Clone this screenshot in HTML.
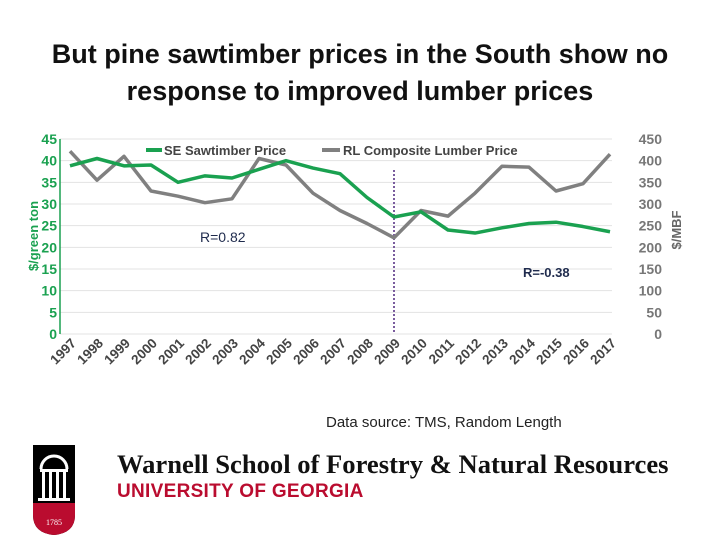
<!DOCTYPE html>
<html><head><meta charset="utf-8"><style>
body{margin:0;width:720px;height:540px;background:#fff;overflow:hidden;font-family:"Liberation Sans",sans-serif;position:relative}
#title{position:absolute;top:36px;left:0;width:720px;text-align:center;font-weight:bold;font-size:27px;line-height:37px;color:#111}
</style></head><body>
<div id="title">But pine sawtimber prices in the South show no<br>response to improved lumber prices</div>
<svg id="chart" width="720" height="540" style="position:absolute;left:0;top:0" xmlns="http://www.w3.org/2000/svg"></svg>
<div style="position:absolute;left:326px;top:414px;font-size:15px;color:#222;white-space:nowrap">Data source: TMS, Random Length</div>
<div style="position:absolute;left:33px;top:445px;width:42px;height:90px">
<svg width="50" height="90" viewBox="0 0 50 90">
<path d="M0 0H42V70Q42 88 21 90Q0 88 0 70Z" fill="#000"/>
<path d="M0 58H42V70Q42 88 21 90Q0 88 0 70Z" fill="#ba0c2f"/>
<path d="M8 24A13 13 0 0 1 34 24" stroke="#fff" stroke-width="3" fill="none"/>
<rect x="7" y="24" width="28" height="3" fill="#fff"/>
<rect x="9" y="27" width="3" height="26" fill="#fff"/><rect x="16" y="27" width="3" height="26" fill="#fff"/><rect x="23" y="27" width="3" height="26" fill="#fff"/><rect x="30" y="27" width="3" height="26" fill="#fff"/>
<rect x="5" y="53" width="32" height="3" fill="#fff"/>
<text x="21" y="80" font-size="8" fill="#fff" text-anchor="middle" font-family="Liberation Serif,serif">1785</text>
</svg></div>
<div style="position:absolute;left:117px;top:449px;font-family:'Liberation Serif',serif;font-weight:bold;font-size:26.6px;color:#111;white-space:nowrap">Warnell School of Forestry &amp; Natural Resources</div>
<div style="position:absolute;left:117px;top:481px;font-family:'Liberation Sans',sans-serif;font-weight:bold;font-size:19px;color:#ba0c2f;letter-spacing:0.3px;white-space:nowrap">UNIVERSITY OF GEORGIA</div>
<script>
const years=["1997","1998","1999","2000","2001","2002","2003","2004","2005","2006","2007","2008","2009","2010","2011","2012","2013","2014","2015","2016","2017"];
const seSaw=[38.8,40.5,38.8,39,35,36.5,36,38,40,38.3,37,31.5,27,28.2,24,23.3,24.5,25.5,25.8,24.8,23.6];
const rlLumber=[422,355,410,330,318,303,312,405,390,325,285,255,222,285,272,325,387,385,330,347,415];
const leftTicks=[0,5,10,15,20,25,30,35,40,45];
const rightTicks=[0,50,100,150,200,250,300,350,400,450];
const svg=document.getElementById('chart');const NS="http://www.w3.org/2000/svg";
function mk(t,a,txt){const e=document.createElementNS(NS,t);for(const k in a)e.setAttribute(k,a[k]);if(txt!=null)e.textContent=txt;svg.appendChild(e);return e;}
const x=i=>70+i*27, yL=v=>334-v*195/45, yR=v=>334-v*195/450;
leftTicks.forEach((v,i)=>{
 let g=mk('line',{x1:60,x2:612,y1:yL(v),y2:yL(v),stroke:'#e3e3e3','stroke-width':1});
 
 
 let t=mk('text',{x:57,y:yL(v)+5,'text-anchor':'end','font-size':14,'font-weight':'bold',fill:'#1aa150'},v);
 
 
});
rightTicks.forEach(v=>{
 let t=mk('text',{x:662,y:yR(v)+5,'text-anchor':'end','font-size':14,'font-weight':'bold',fill:'#777'},v);
 
 
});
let ax=mk('line',{x1:60,x2:60,y1:139,y2:334,stroke:'#1aa150','stroke-width':1.5});


years.forEach((yv,i)=>{
 let t=mk('text',{x:x(i)+7,y:344,'text-anchor':'end','font-size':13.5,'font-weight':'bold',fill:'#444',transform:`rotate(-45 ${x(i)+7} 344)`},yv);
 
 
});
let dl=mk('line',{x1:x(12),x2:x(12),y1:170,y2:334,stroke:'#7a5c9e','stroke-width':2,'stroke-dasharray':'2,2'});


let p1=mk('polyline',{points:rlLumber.map((v,i)=>x(i)+','+yR(v)).join(' '),fill:'none',stroke:'#808080','stroke-width':3.5,'stroke-linejoin':'round'});


let p2=mk('polyline',{points:seSaw.map((v,i)=>x(i)+','+yL(v)).join(' '),fill:'none',stroke:'#1aa150','stroke-width':3.5,'stroke-linejoin':'round'});


let l1=mk('line',{x1:146,x2:162,y1:150,y2:150,stroke:'#1aa150','stroke-width':4});


let lt1=mk('text',{x:164,y:155,'font-size':13,'font-weight':'bold',fill:'#444'},'SE Sawtimber Price');


let l2=mk('line',{x1:322,x2:340,y1:150,y2:150,stroke:'#808080','stroke-width':4});


let lt2=mk('text',{x:343,y:155,'font-size':13,'font-weight':'bold',fill:'#444'},'RL Composite Lumber Price');


let r1=mk('text',{x:200,y:242,'font-size':14,fill:'#1f2b4d'},'R=0.82');


let r2=mk('text',{x:523,y:277,'font-size':13,'font-weight':'bold',fill:'#1f2b4d'},'R=-0.38');


let yt=mk('text',{x:38,y:236,'text-anchor':'middle','font-size':13,'font-weight':'bold',fill:'#1aa150',transform:'rotate(-90 38 236)'},'$/green ton');


let yt2=mk('text',{x:681,y:230,'text-anchor':'middle','font-size':13,'font-weight':'bold',fill:'#666',transform:'rotate(-90 681 230)'},'$/MBF');


</script>
</body></html>
